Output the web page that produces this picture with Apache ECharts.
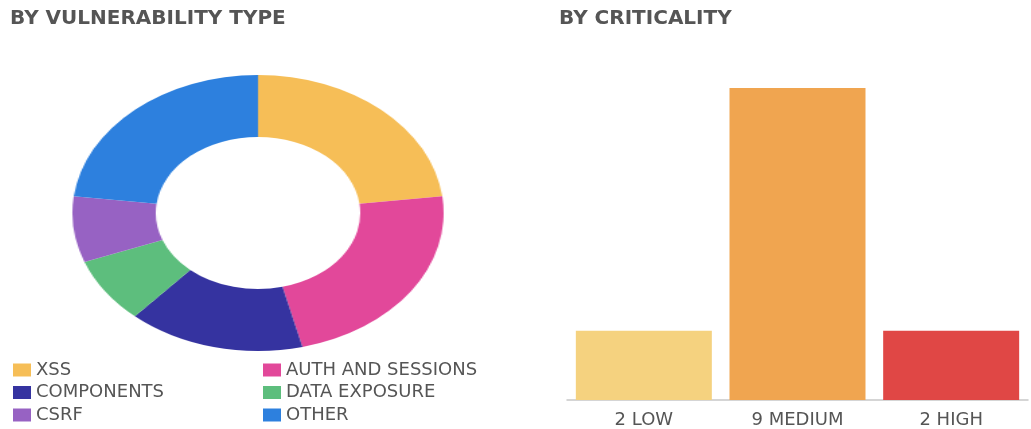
<!DOCTYPE html>
<html>
<head>
<meta charset="utf-8">
<script src="https://cdn.jsdelivr.net/npm/echarts@6/dist/echarts.min.js"></script>
<style>
  html, body { margin: 0; padding: 0; background: #fff; }
  #main { position: absolute; left: 0; top: 0; width: 1031px; height: 429px; }
  /* echarts pies are round; the reference donut is stretched sideways */
  #donut { position: absolute; left: 118px; top: 73px; width: 280px; height: 280px;
           transform: scaleX(1.345); transform-origin: 50% 50%; }
</style>
</head>
<body>
<div id="main"></div>
<div id="donut"></div>
<script>
var typeNames = ['XSS', 'AUTH AND SESSIONS', 'COMPONENTS', 'DATA EXPOSURE', 'CSRF', 'OTHER'];
var typeValues = [3, 3, 2, 1, 1, 3];
var typeColors = ['#F6BE57', '#E2489A', '#3533A0', '#5DBE7D', '#9762C3', '#2D80DE'];

var levelNames = ['LOW', 'MEDIUM', 'HIGH'];
var levelValues = [2, 9, 2];
var levelColors = ['#F5D27F', '#F0A550', '#E04745'];

var font = 'DejaVu Sans';
var textGrey = '#555';

var pieData = typeNames.map(function (name, i) {
    return { name: name, value: typeValues[i], itemStyle: { color: typeColors[i] } };
});

var donut = echarts.init(document.getElementById('donut'));
donut.setOption({
    animation: false,
    series: [{
        type: 'pie',
        center: ['50%', '50%'],
        radius: [76, 138],
        startAngle: 90,
        clockwise: true,
        label: { show: false },
        labelLine: { show: false },
        data: pieData
    }]
});

var myChart = echarts.init(document.getElementById('main'));
var legendBase = {
    orient: 'vertical',
    icon: 'rect',
    itemWidth: 18,
    itemHeight: 13,
    itemGap: 4.5,
    padding: 0,
    top: 361,
    textStyle: { fontFamily: font, fontSize: 18, color: textGrey, lineHeight: 18 }
};
myChart.setOption({
    animation: false,
    title: [{
        text: 'BY VULNERABILITY TYPE',
        left: 10, top: 9, padding: 0,
        textStyle: { fontFamily: font, fontSize: 20, fontWeight: 'bold', color: textGrey }
    }, {
        text: 'BY CRITICALITY',
        left: 559, top: 9, padding: 0,
        textStyle: { fontFamily: font, fontSize: 20, fontWeight: 'bold', color: textGrey }
    }],
    legend: [
        Object.assign({ left: 13, data: ['XSS', 'COMPONENTS', 'CSRF'] }, legendBase),
        Object.assign({ left: 263, data: ['AUTH AND SESSIONS', 'DATA EXPOSURE', 'OTHER'] }, legendBase)
    ],
    grid: { left: 567, right: 3, top: 88, bottom: 27 },
    xAxis: {
        type: 'category',
        data: levelNames,
        axisTick: { show: false },
        axisLine: { lineStyle: { color: '#c8c8c8', width: 1.5 } },
        axisLabel: {
            fontFamily: font, fontSize: 18, color: textGrey, margin: 11,
            formatter: function (name, idx) { return levelValues[idx] + ' ' + name; }
        }
    },
    yAxis: { type: 'value', min: 0, max: 9, show: false },
    series: [{
        type: 'bar',
        barCategoryGap: '11.5%',
        data: levelValues.map(function (v, i) {
            return { value: v, itemStyle: { color: levelColors[i] } };
        })
    }, {
        // only feeds the legend; the visible donut lives in its own stretched chart
        type: 'pie',
        radius: [0, 0],
        silent: true,
        label: { show: false },
        labelLine: { show: false },
        data: pieData
    }]
});
echarts.connect([myChart, donut]);
</script>
</body>
</html>
